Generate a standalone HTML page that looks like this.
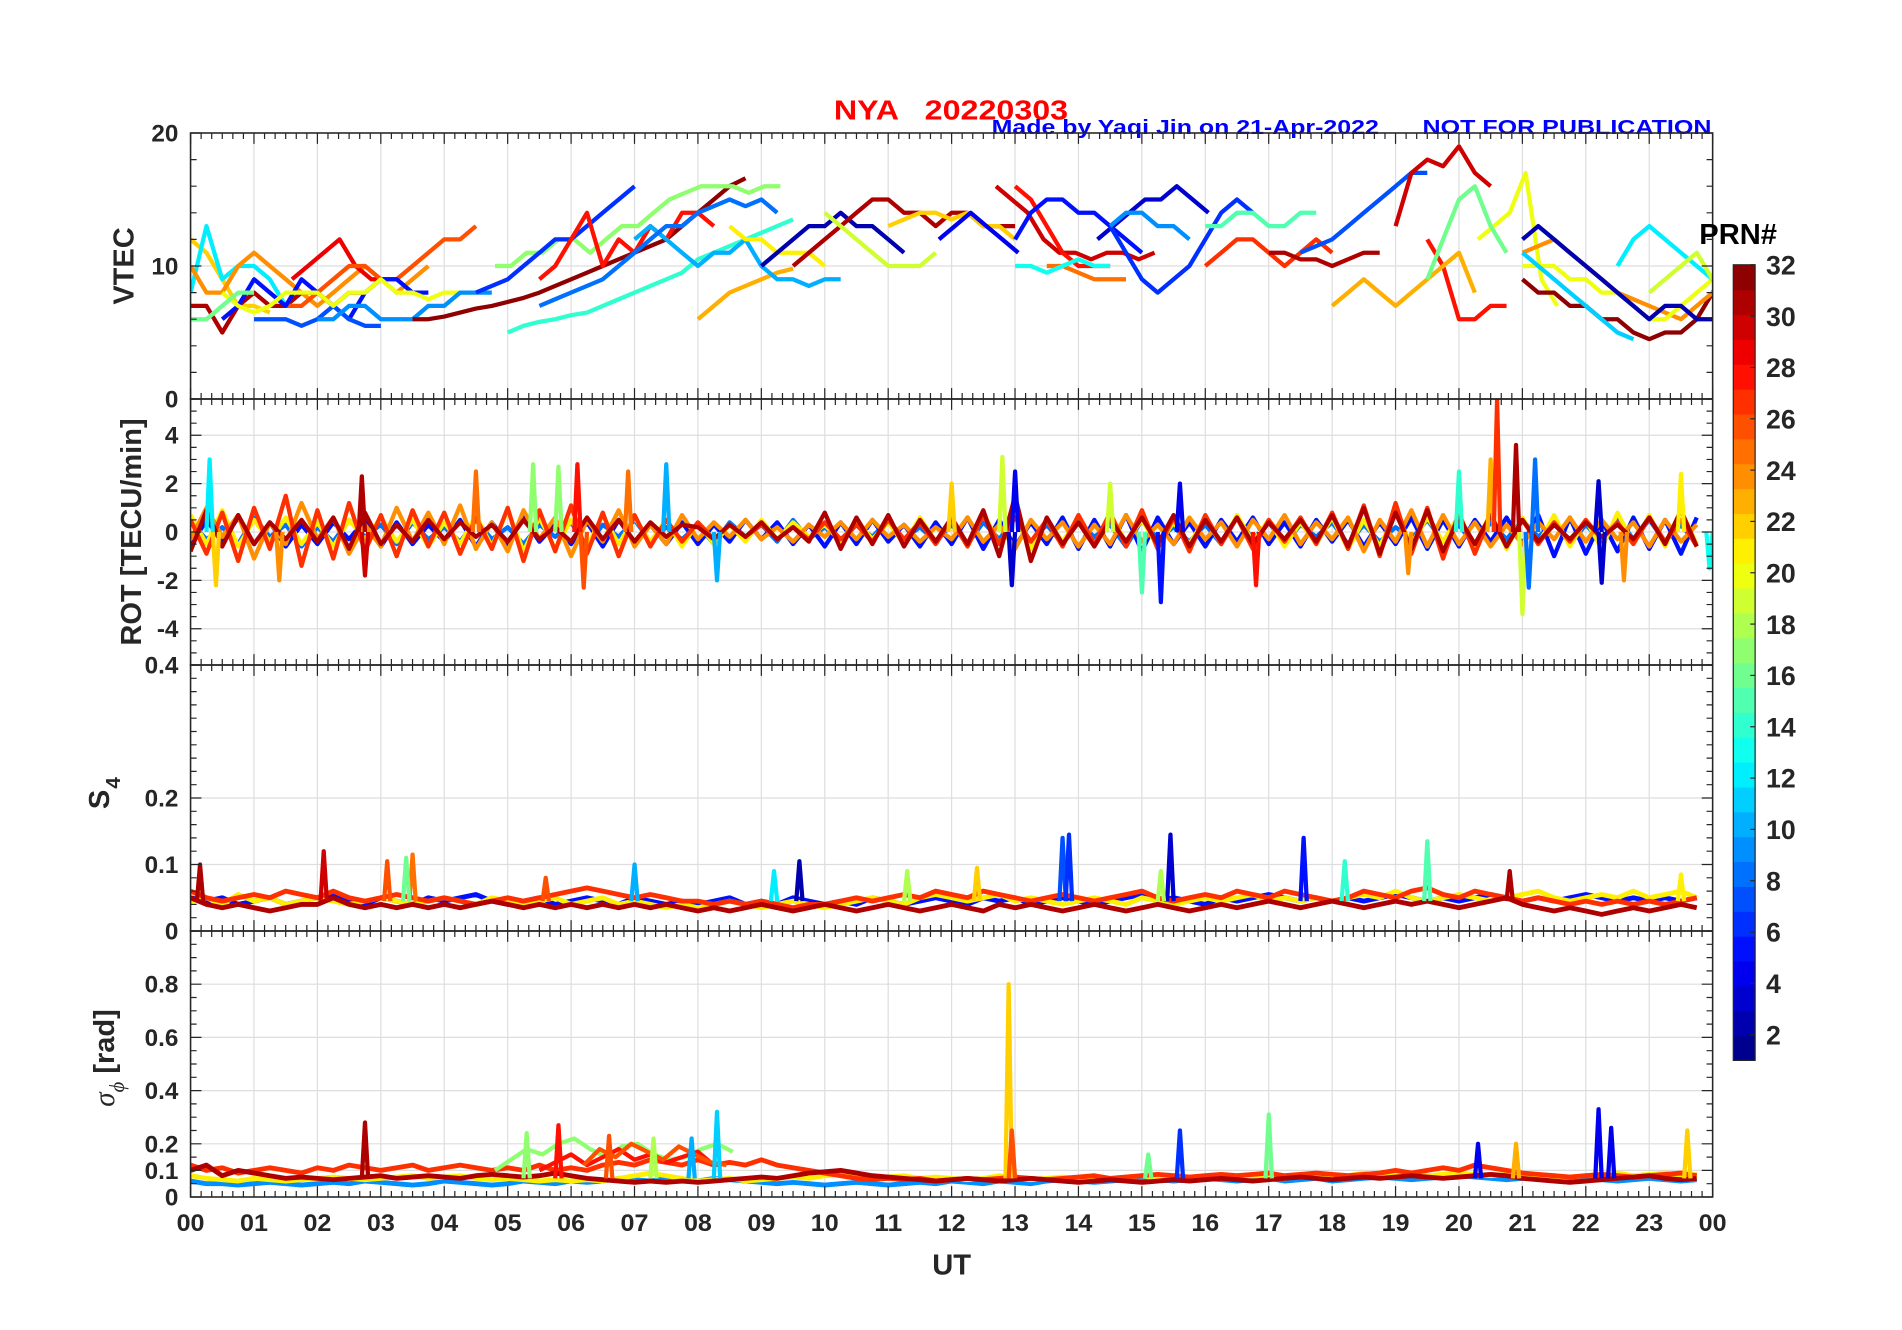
<!DOCTYPE html>
<html><head><meta charset="utf-8">
<style>
html,body{margin:0;padding:0;background:#fff;}
svg{display:block;}
text{font-family:"Liberation Sans",Arial,sans-serif;font-weight:bold;}
</style></head>
<body>
<svg id="chart" width="1902" height="1330" viewBox="0 0 1567 1100" preserveAspectRatio="none" xmlns="http://www.w3.org/2000/svg">
<rect width="1567" height="1100" fill="#fff"/>
<text x="687" y="99" fill="#ff0000" font-size="23" xml:space="preserve" textLength="193" lengthAdjust="spacingAndGlyphs">NYA   20220303</text>
<text x="817" y="111" fill="#0000ff" font-size="17" textLength="319" lengthAdjust="spacingAndGlyphs">Made by Yaqi Jin on 21-Apr-2022</text>
<text x="1172" y="111" fill="#0000ff" font-size="17" textLength="238" lengthAdjust="spacingAndGlyphs">NOT FOR PUBLICATION</text>
<g id="grid"></g>
<g id="marks"></g>
<g id="axes"></g>
<text transform="translate(110,220) rotate(-90)" text-anchor="middle" font-size="24" fill="#262626">VTEC</text>
<text transform="translate(116,440) rotate(-90)" text-anchor="middle" font-size="24" fill="#262626">ROT [TECU/min]</text>
<text transform="translate(90,656) rotate(-90)" text-anchor="middle" font-size="24" fill="#262626">S<tspan font-size="17" dy="9" dx="1">4</tspan></text>
<text transform="translate(94,875) rotate(-90)" text-anchor="middle" font-size="24" fill="#262626"><tspan font-style="italic" font-weight="normal" font-family="Liberation Serif,serif">σ</tspan><tspan font-size="17" dy="8" font-style="italic" font-weight="normal" font-family="Liberation Serif,serif">ϕ</tspan><tspan dy="-8"> [rad]</tspan></text>
<text x="784" y="1054" text-anchor="middle" font-size="24" fill="#262626">UT</text>
<g id="colorbar"></g>
<text x="1400" y="202" font-size="24" fill="#000">PRN#</text>
</svg>
<script>
// ---------- data ----------
const hourLabels = ["00","01","02","03","04","05","06","07","08","09","10","11","12","13","14","15","16","17","18","19","20","21","22","23","00"];
const vtecTicks = [0,10,20];
const rotTicks = [-4,-2,0,2,4];
const s4Ticks = [0,0.1,0.2,0.4];
const sigTicks = [0,0.1,0.2,0.4,0.6,0.8];
const prnTicks = [2,4,6,8,10,12,14,16,18,20,22,24,26,28,30,32];

// VTEC tracks: PRN, start hour, values every 0.25 h
const vtecPrn = [22,12,24,31,29,26,5,7,20,16,9,32,14,17,6,28,23,10,21,2,31,19,22,4,30,28,25,5,3,6,9,15,27,31,7,30,28,20,23,16,32,24,20,2,11,12,19,13,8];
const vtecStart = [0,0,0,0,1.6,1.5,0.5,1,0.5,0,2,3.5,5,4.8,4.5,5.5,8,7,8.5,9,9.5,10,11,11.8,12.7,13,13.5,13,14.3,14.5,14.5,16,16,17,17.5,19,19.5,20.3,18,19.5,21,21,21,21,21,22.5,23,13,5.5];
const vtecVals = [
 [12,11,9,7,7,6.5],
 [8,13,9,10,10,9,7],
 [10,8,8,10,11,10,9,8,7,8,9,10,9,8,9,10],
 [7,7,5,7,8,7,7,8,8,7,8,8],
 [9,10,11,12,10,9,9],
 [7,7,8,9,10,10,9,9,10,11,12,12,13],
 [6,7,9,8,7,9,8,7,6,8,9,9,8,8],
 [6,6,6,5.5,6,7,6,5.5,5.5],
 [8,7,6.5,7,8,8,8,7,8,8,9,8,8,7.5,8,8,8],
 [6,6,7,8,8],
 [6,6,7,7,6,6,6,7,7,8,8,8],
 [6,6,6.2,6.5,6.8,7,7.3,7.6,8,8.5,9,9.5,10,10.5,11,11.5,12,13,14,15,16,16.6],
 [5,5.5,5.8,6,6.3,6.5,7,7.5,8,8.5,9,9.5,10.5,11,11.5,12,12.5,13,13.5],
 [10,10,11,11,12,12,11,12,13,13,14,15,15.5,16,16,16,15.5,16,16],
 [8,8.5,9,10,11,12,12,13,14,15,16],
 [9,10,12,14,10,12,11,13,12,14,14,13],
 [6,7,8,8.5,9,9.5,9.8],
 [12,13,12,11,10,11,11,12,10,9,9,8.5,9,9],
 [13,12,12,11,11,11,10],
 [10,11,12,13,13,14,13,13,12,11],
 [10,11,12,13,14,15,15,14,14,13,14,14,13,13,13],
 [14,13,12,11,10,10,10,11],
 [13,13.5,14,14,13.5,14,13,13,12],
 [12,13,14,13,12,11],
 [16,15,14,12,11,11,10.5,11,11,10.5,11],
 [16,15,13,11,10,10,10],
 [10,10,9.5,9,9,9],
 [12,14,15,15,14,14,13,12,11],
 [12,13,14,15,15,16,15,14],
 [13,11,9,8,9,10,12,14,15,14],
 [13,14,14,13,13,12],
 [13,13,14,14,13,13,14,14],
 [10,11,12,12,11,10,11,12,11],
 [11,11,10.5,10.5,10,10.5,11,11],
 [11,11.5,12,13,14,15,16,17,17],
 [13,17,18,17.5,19,17,16],
 [12,10,6,6,7,7],
 [12,13,14,17,9,7],
 [7,8,9,8,7,8,9,10,11,8],
 [9,12,15,16,13,11],
 [9,8,8,7,7,6,6,5,4.5,5,5,6,8,10,9,8,6],
 [11,11.5,12,11,10,9,8,7.5,7,6.5,6,7,8,9,8,8],
 [10,10,10,9,9,8,8,7,6,6,7,8,9,9,9],
 [12,13,12,11,10,9,8,7,6,7,7,6,6],
 [11,10,9,8,7,6,5,4.5],
 [10,12,13,12,11,10,9],
 [8,9,10,11,9],
 [10,10,9.5,10,10.5,10,10],
 [7,7.5,8,8.5,9,10,11,12,13,13,14,14.5,15,14.5,15,14]
];

// ROT band series (every 0.25 h over the day)
const rotPrn = [8,5,21,24,27,31];
const rotVals = [
 [0.4,-0.3,0.2,-0.5,0.6,-0.2,0.3,-0.6,0.2,-0.4,0.5,-0.2,0.3,-0.5,0.4,-0.3,0.2,-0.4,0.5,-0.3,0.2,-0.5,0.3,-0.2,0.4,-0.6,0.3,-0.2,0.5,-0.4,0.2,-0.3,0.3,-0.5,0.4,-0.2,0.3,-0.4,0.5,-0.3,0.2,-0.4,0.3,-0.2,0.5,-0.3,0.2,-0.4,0.3,-0.5,0.4,-0.3,0.6,-0.4,0.3,-0.5,0.4,-0.2,0.3,-0.6,0.5,-0.3,0.2,-0.4,0.3,-0.5,0.6,-0.3,0.4,-0.5,0.3,-0.2,0.4,-0.5,0.3,-0.4,0.2,-0.3,0.5,-0.4,0.3,-0.6,0.4,-0.3,0.5,-0.2,0.4,-0.5,0.3,-0.4,0.6,-0.3,0.5,-0.4,0.3,-0.5],
 [-0.6,0.5,-0.4,0.6,-0.5,0.4,-0.6,0.3,-0.5,0.4,-0.3,0.5,-0.6,0.4,-0.5,0.3,-0.4,0.5,-0.6,0.4,-0.5,0.6,-0.4,0.3,-0.5,0.4,-0.6,0.5,-0.4,0.3,-0.5,0.4,-0.5,0.3,-0.4,0.5,-0.3,0.4,-0.5,0.3,-0.6,0.4,-0.5,0.5,-0.4,0.3,-0.6,0.4,-0.5,0.6,-0.7,0.5,-0.6,0.4,-0.5,0.6,-0.7,0.5,-0.6,0.7,-0.8,0.6,-0.5,0.4,-0.6,0.5,-0.4,0.6,-0.5,0.4,-0.6,0.5,-0.4,0.5,-0.6,0.4,-0.5,0.6,-0.7,0.5,-0.6,0.5,-0.4,0.6,-0.5,0.7,-1.0,0.6,-0.9,0.5,-0.8,0.6,-0.7,0.5,-0.9,0.6],
 [0.7,-0.5,0.9,-0.6,0.5,-0.4,0.6,-0.5,0.4,-0.6,0.5,-0.3,0.6,-0.4,0.5,-0.6,0.4,-0.5,0.7,-0.6,0.9,-0.8,0.6,-0.7,0.5,-0.6,0.7,-0.5,0.6,-0.4,0.5,-0.6,0.4,-0.5,0.3,-0.4,0.5,-0.3,0.4,-0.2,0.3,-0.4,0.5,-0.3,0.4,-0.5,0.6,-0.4,0.5,-0.6,0.8,-0.5,0.6,-0.7,0.5,-0.4,0.6,-0.5,0.7,-0.4,0.5,-0.6,0.4,-0.5,0.6,-0.5,0.7,-0.4,0.5,-0.6,0.4,-0.5,0.6,-0.7,0.5,-0.6,0.8,-0.5,0.6,-0.4,0.7,-0.6,0.8,-0.7,0.6,-0.5,0.7,-0.6,0.5,-0.7,0.8,-0.5,0.7,-0.6,0.9,-0.5],
 [-0.3,1.0,-0.2,0.7,-1.1,0.4,-0.5,1.2,-0.3,0.6,-0.9,0.3,-0.6,1.0,-0.4,0.8,-0.5,1.1,-0.7,0.4,-0.8,0.9,-0.3,0.6,-1.0,0.5,-0.4,0.9,-0.6,0.3,-0.5,0.7,-0.3,0.4,-0.2,0.5,-0.3,0.2,-0.4,0.3,-0.2,0.4,-0.3,0.5,-0.2,0.3,-0.4,0.2,-0.3,0.6,-0.4,0.3,-0.7,0.5,-0.3,0.4,-0.6,0.3,-0.5,0.7,-0.4,0.3,-0.5,0.6,-0.3,0.4,-0.6,0.5,-0.3,0.7,-0.5,0.4,-0.3,0.6,-0.8,0.5,-0.4,0.9,-0.6,0.7,-0.5,0.4,-0.6,0.3,-0.5,0.4,-0.3,0.6,-0.4,0.5,-0.3,0.4,-0.6,0.5,-0.4,0.3],
 [0.5,-0.9,0.8,-1.2,1.0,-0.7,1.5,-1.4,0.9,-1.1,1.2,-0.8,0.7,-1.0,0.9,-0.6,0.8,-0.9,0.6,-0.7,1.0,-1.2,0.9,-0.8,1.1,-0.9,0.8,-1.0,0.7,-0.6,0.5,-0.4,0.4,-0.3,0.3,-0.2,0.3,-0.3,0.2,-0.3,0.4,-0.3,0.3,-0.4,0.5,-0.3,0.4,-0.5,0.5,-0.6,0.7,-0.5,0.6,-0.4,0.5,-0.6,0.7,-0.5,0.8,-0.6,0.9,-0.7,0.6,-0.8,0.7,-0.5,0.6,-0.7,0.5,-0.4,0.6,-0.5,0.8,-0.7,1.1,-1.0,1.2,-0.9,1.0,-1.1,0.8,-0.9,0.7,-0.6,0.5,-0.5,0.4,-0.4,0.5,-0.3,0.4,-0.5,0.6,-0.4,0.5,-0.6],
 [-0.8,0.9,-0.6,0.7,-0.5,0.4,-0.3,0.5,-0.4,0.6,-0.7,0.8,-0.5,0.3,-0.4,0.5,-0.3,0.4,-0.2,0.3,-0.4,0.5,-0.3,0.2,-0.4,0.6,-0.3,0.5,-0.4,0.4,-0.2,0.3,0.2,-0.3,0.3,-0.2,0.4,-0.3,0.2,-0.4,0.8,-0.7,0.6,-0.5,0.7,-0.6,0.5,-0.4,0.6,-0.5,0.9,-1.0,1.5,-1.2,0.6,-0.5,0.4,-0.6,0.5,-0.4,0.6,-0.5,0.7,-0.6,0.5,-0.4,0.6,-0.5,0.4,-0.3,0.5,-0.4,0.7,-0.6,1.0,-0.9,0.8,-0.7,0.9,-0.8,0.6,-0.5,0.7,-0.6,0.5,-0.4,0.3,-0.3,0.4,-0.2,0.3,-0.3,0.6,-0.5,0.9,-0.6]
];
const rotSpikeHour = [0.3,0.4,1.4,2.7,2.75,4.5,5.4,5.8,6.1,6.2,6.9,7.5,8.3,12.0,12.8,13.0,12.95,14.5,15.0,15.3,15.6,16.8,19.2,20.0,20.5,20.6,20.9,21.0,21.1,21.2,22.2,22.25,22.6,23.5,23.95];
const rotSpikeVal = [3,-2.2,-2,2.3,-1.8,2.5,2.8,2.7,2.8,-2.3,2.5,2.8,-2,2,3.1,2.5,-2.2,2.0,-2.5,-2.9,2,-2.2,-1.7,2.5,3,5.5,3.6,-3.4,-2.3,3,2.1,-2.1,-2,2.4,-1.5];
const rotSpikePrn = [12,22,24,31,30,25,17,17,28,26,25,10,10,22,19,4,3,19,15,5,4,28,24,14,23,27,31,19,8,8,3,3,24,21,13];

// S4 base series (every 0.25 h)
const s4Prn = [5,21,27,31];
const s4Vals = [
 [0.05,0.045,0.05,0.04,0.045,0.05,0.04,0.045,0.05,0.055,0.045,0.04,0.05,0.045,0.04,0.05,0.045,0.05,0.055,0.045,0.04,0.045,0.05,0.04,0.045,0.05,0.045,0.04,0.05,0.045,0.04,0.045,0.04,0.045,0.05,0.04,0.045,0.04,0.05,0.045,0.04,0.045,0.04,0.05,0.045,0.04,0.045,0.05,0.045,0.04,0.05,0.045,0.05,0.04,0.045,0.05,0.045,0.04,0.045,0.05,0.055,0.045,0.05,0.045,0.04,0.05,0.045,0.05,0.055,0.05,0.045,0.05,0.045,0.05,0.045,0.05,0.055,0.05,0.045,0.05,0.045,0.05,0.055,0.05,0.045,0.05,0.045,0.05,0.055,0.05,0.045,0.05,0.045,0.05,0.045,0.05],
 [0.045,0.05,0.04,0.055,0.045,0.05,0.04,0.045,0.05,0.045,0.04,0.045,0.05,0.045,0.04,0.045,0.05,0.045,0.04,0.05,0.045,0.04,0.045,0.05,0.04,0.045,0.05,0.04,0.045,0.04,0.035,0.04,0.035,0.04,0.045,0.04,0.035,0.04,0.045,0.04,0.035,0.04,0.045,0.05,0.045,0.04,0.05,0.055,0.05,0.045,0.05,0.055,0.045,0.05,0.045,0.04,0.045,0.05,0.045,0.04,0.05,0.045,0.04,0.045,0.05,0.045,0.05,0.055,0.045,0.05,0.045,0.05,0.045,0.05,0.055,0.05,0.06,0.05,0.045,0.05,0.055,0.05,0.045,0.05,0.055,0.06,0.05,0.045,0.05,0.055,0.05,0.06,0.05,0.055,0.06,0.05],
 [0.06,0.05,0.045,0.05,0.055,0.05,0.06,0.055,0.05,0.06,0.05,0.045,0.05,0.055,0.05,0.045,0.05,0.045,0.04,0.045,0.05,0.045,0.05,0.055,0.06,0.065,0.06,0.055,0.05,0.055,0.05,0.045,0.045,0.04,0.045,0.04,0.045,0.04,0.035,0.04,0.04,0.045,0.05,0.045,0.05,0.055,0.05,0.06,0.055,0.05,0.06,0.055,0.05,0.045,0.05,0.055,0.05,0.045,0.05,0.055,0.06,0.05,0.045,0.05,0.055,0.05,0.06,0.055,0.05,0.06,0.055,0.05,0.045,0.05,0.06,0.055,0.05,0.06,0.065,0.055,0.05,0.06,0.055,0.05,0.045,0.05,0.045,0.04,0.045,0.04,0.045,0.04,0.045,0.04,0.045,0.05],
 [0.05,0.04,0.035,0.04,0.035,0.03,0.035,0.04,0.04,0.05,0.04,0.035,0.04,0.035,0.04,0.035,0.04,0.035,0.04,0.045,0.04,0.035,0.04,0.035,0.04,0.035,0.04,0.035,0.04,0.035,0.04,0.035,0.03,0.035,0.03,0.035,0.04,0.035,0.03,0.035,0.04,0.035,0.03,0.035,0.04,0.035,0.03,0.035,0.04,0.035,0.03,0.04,0.035,0.04,0.035,0.03,0.035,0.04,0.035,0.03,0.035,0.04,0.035,0.03,0.035,0.04,0.035,0.04,0.045,0.04,0.035,0.04,0.045,0.04,0.035,0.04,0.045,0.04,0.045,0.04,0.035,0.04,0.045,0.05,0.04,0.035,0.03,0.035,0.03,0.025,0.03,0.035,0.03,0.035,0.04,0.035]
];
const s4SpikeHour = [0.15,2.1,3.1,3.5,3.4,5.6,7.0,9.2,9.6,11.3,12.4,13.75,13.85,15.45,15.3,17.55,18.2,19.5,20.8,23.5];
const s4SpikeVal = [0.1,0.12,0.105,0.115,0.11,0.08,0.1,0.09,0.105,0.09,0.095,0.14,0.145,0.145,0.09,0.14,0.105,0.135,0.09,0.085];
const s4SpikePrn = [31,30,26,25,16,26,10,12,2,18,22,7,6,3,18,5,14,15,31,21];

// Sigma-phi base series (every 0.25 h)
const sigPrn = [9,21,27,31];
const sigVals = [
 [0.06,0.05,0.05,0.045,0.05,0.055,0.05,0.045,0.05,0.055,0.05,0.06,0.055,0.05,0.045,0.05,0.06,0.055,0.05,0.045,0.05,0.06,0.055,0.05,0.06,0.055,0.06,0.07,0.065,0.06,0.07,0.065,0.06,0.07,0.065,0.06,0.055,0.05,0.055,0.05,0.045,0.05,0.055,0.05,0.045,0.05,0.055,0.05,0.06,0.055,0.05,0.06,0.055,0.05,0.06,0.065,0.06,0.055,0.06,0.065,0.07,0.065,0.06,0.065,0.07,0.065,0.06,0.065,0.07,0.06,0.065,0.07,0.06,0.065,0.07,0.075,0.07,0.065,0.07,0.075,0.08,0.075,0.07,0.065,0.07,0.075,0.07,0.065,0.07,0.065,0.06,0.065,0.07,0.065,0.06,0.065],
 [0.08,0.07,0.065,0.06,0.07,0.065,0.06,0.065,0.07,0.075,0.07,0.065,0.07,0.075,0.08,0.07,0.075,0.08,0.07,0.065,0.07,0.065,0.06,0.065,0.06,0.065,0.06,0.07,0.08,0.09,0.08,0.07,0.06,0.065,0.07,0.06,0.065,0.07,0.075,0.07,0.08,0.085,0.08,0.07,0.075,0.08,0.07,0.075,0.07,0.065,0.07,0.08,0.07,0.065,0.07,0.075,0.07,0.065,0.07,0.075,0.08,0.07,0.065,0.07,0.075,0.07,0.075,0.08,0.075,0.07,0.08,0.075,0.07,0.08,0.09,0.08,0.09,0.085,0.08,0.085,0.09,0.085,0.08,0.085,0.08,0.075,0.07,0.075,0.08,0.085,0.09,0.08,0.085,0.09,0.08,0.085],
 [0.12,0.1,0.11,0.09,0.1,0.11,0.1,0.09,0.11,0.1,0.12,0.11,0.1,0.11,0.12,0.1,0.11,0.12,0.11,0.1,0.11,0.1,0.12,0.1,0.11,0.1,0.12,0.13,0.12,0.14,0.13,0.12,0.14,0.12,0.13,0.12,0.14,0.12,0.11,0.1,0.09,0.08,0.07,0.065,0.07,0.065,0.07,0.06,0.065,0.07,0.065,0.07,0.075,0.07,0.065,0.07,0.075,0.08,0.07,0.075,0.08,0.085,0.08,0.075,0.08,0.085,0.08,0.085,0.09,0.08,0.085,0.09,0.085,0.08,0.085,0.09,0.1,0.09,0.1,0.11,0.1,0.12,0.11,0.1,0.09,0.085,0.08,0.075,0.08,0.085,0.08,0.075,0.08,0.085,0.09,0.08],
 [0.1,0.12,0.08,0.1,0.09,0.08,0.07,0.075,0.07,0.065,0.07,0.075,0.08,0.07,0.075,0.08,0.075,0.07,0.08,0.085,0.08,0.075,0.08,0.09,0.08,0.07,0.065,0.06,0.055,0.06,0.055,0.06,0.055,0.06,0.065,0.07,0.075,0.07,0.08,0.09,0.095,0.1,0.09,0.08,0.075,0.07,0.065,0.06,0.065,0.07,0.065,0.06,0.065,0.07,0.065,0.06,0.055,0.06,0.065,0.06,0.055,0.06,0.065,0.06,0.065,0.07,0.065,0.06,0.065,0.07,0.075,0.07,0.065,0.07,0.075,0.07,0.075,0.08,0.075,0.07,0.075,0.08,0.085,0.08,0.07,0.065,0.06,0.055,0.06,0.065,0.07,0.075,0.08,0.07,0.065,0.07]
];
const sigBurstPrn = [17,28,26];
const sigBurstStart = [4.8,5.5,6.2];
const sigBurstVals = [
 [0.1,0.14,0.18,0.16,0.2,0.22,0.18,0.15,0.19,0.2,0.16,0.14,0.15,0.18,0.2,0.17],
 [0.1,0.13,0.16,0.12,0.15,0.18,0.14,0.16,0.13,0.15,0.17,0.12],
 [0.12,0.18,0.15,0.2,0.17,0.14,0.19,0.16,0.13,0.12]
];
const sigSpikeHour = [2.75,5.3,5.8,6.6,7.3,7.9,8.3,12.9,12.95,15.1,15.6,17.0,20.3,20.9,22.2,22.4,23.6];
const sigSpikeVal = [0.28,0.24,0.27,0.23,0.22,0.22,0.32,0.8,0.25,0.16,0.25,0.31,0.2,0.2,0.33,0.26,0.25];
const sigSpikePrn = [31,17,28,26,18,10,11,22,26,16,6,16,4,23,4,4,22];

// ---------- helpers ----------
const NS = "http://www.w3.org/2000/svg";
const X0 = 157, X1 = 1411;
function xs(h){ return X0 + h*(X1-X0)/24; }
const panels = [
 {name:"vtec", top:110, bot:330, min:0, max:20, ticks:vtecTicks, minor:2, fmt:v=>String(v)},
 {name:"rot", top:330, bot:550, min:-5.5, max:5.5, ticks:rotTicks, minor:0.5, fmt:v=>String(v)},
 {name:"s4", top:550, bot:770, min:0, max:0.4, ticks:s4Ticks, minor:0.02, fmt:v=>String(v)},
 {name:"sigma", top:770, bot:990, min:0, max:1, ticks:sigTicks, minor:0.05, fmt:v=>String(v)}
];
function ys(p,v){ return p.bot - (v-p.min)/(p.max-p.min)*(p.bot-p.top); }
function jet(prn){
 const t=(prn-0.5)/32;
 const c=x=>Math.round(255*Math.max(0,Math.min(1,1.5-Math.abs(4*t-x))));
 return "rgb("+c(3)+","+c(2)+","+c(1)+")";
}
function mk(tag,attrs,parent){
 const e=document.createElementNS(NS,tag);
 for(const k in attrs) e.setAttribute(k,attrs[k]);
 parent.appendChild(e); return e;
}
const grid=document.getElementById("grid"), marks=document.getElementById("marks"), axes=document.getElementById("axes");
const defs=mk("defs",{},document.getElementById("chart"));

panels.forEach(p=>{
 const cp=mk("clipPath",{id:"clip-"+p.name},defs);
 mk("rect",{x:X0,y:p.top,width:X1-X0,height:p.bot-p.top},cp);
 for(let h=1;h<24;h++){
  const l=mk("line",{x1:xs(h),x2:xs(h),y1:p.top,y2:p.bot,stroke:"#dedede","stroke-width":1},grid);
  
  
 }
 p.ticks.forEach(v=>{
  if(v<=p.min||v>=p.max) return;
  const l=mk("line",{x1:X0,x2:X1,y1:ys(p,v),y2:ys(p,v),stroke:"#dedede","stroke-width":1},grid);
  
  
 });
});

function polyline(p,prn,t0,dt,vals,w,name){
 const pts=vals.map((v,i)=>xs(t0+i*dt).toFixed(1)+","+ys(p,v).toFixed(1)).join(" ");
 const e=mk("polyline",{points:pts,fill:"none",stroke:jet(prn),"stroke-width":w,"stroke-linejoin":"round","clip-path":"url(#clip-"+p.name+")"},marks);
 
 
}
function spikes(p,hours,vals,prns,base,name){
 hours.forEach((h,i)=>{
  const pts=[[h-0.05,base],[h,vals[i]],[h+0.05,base]].map(q=>xs(q[0]).toFixed(1)+","+ys(p,q[1]).toFixed(1)).join(" ");
  const e=mk("polyline",{points:pts,fill:"none",stroke:jet(prns[i]),"stroke-width":3.5,"stroke-linejoin":"round","clip-path":"url(#clip-"+p.name+")"},marks);
  
  
 });
}
vtecVals.forEach((vals,i)=>polyline(panels[0],vtecPrn[i],vtecStart[i],0.25,vals,3.5,"vtec-track-prn"+vtecPrn[i]));
rotVals.forEach((vals,i)=>polyline(panels[1],rotPrn[i],0,0.25,vals,3.5,"rot-series-prn"+rotPrn[i]));
spikes(panels[1],rotSpikeHour,rotSpikeVal,rotSpikePrn,0,"rot-spike");
s4Vals.forEach((vals,i)=>polyline(panels[2],s4Prn[i],0,0.25,vals,4,"s4-series-prn"+s4Prn[i]));
spikes(panels[2],s4SpikeHour,s4SpikeVal,s4SpikePrn,0.045,"s4-spike");
sigVals.forEach((vals,i)=>polyline(panels[3],sigPrn[i],0,0.25,vals,4,"sigma-series-prn"+sigPrn[i]));
sigBurstVals.forEach((vals,i)=>polyline(panels[3],sigBurstPrn[i],sigBurstStart[i],0.25,vals,3.5,"sigma-burst-prn"+sigBurstPrn[i]));
spikes(panels[3],sigSpikeHour,sigSpikeVal,sigSpikePrn,0.07,"sigma-spike");

panels.forEach(p=>{
 const box=mk("rect",{x:X0,y:p.top,width:X1-X0,height:p.bot-p.top,fill:"none",stroke:"#262626","stroke-width":1.3},axes);
 
 
 let d="";
 for(let k=0;k<=144;k++){
  const x=xs(k/6), len=(k%6===0)?9:5;
  d+="M"+x+","+p.bot+"v"+(-len)+"M"+x+","+p.top+"v"+len;
 }
 for(let v=p.min; v<=p.max+1e-9; v+=p.minor){
  const isMajor=p.ticks.some(t=>Math.abs(t-v)<1e-6);
  const len=isMajor?9:5, y=ys(p,v);
  d+="M"+X0+","+y+"h"+len+"M"+X1+","+y+"h"+(-len);
 }
 const tk=mk("path",{d:d,stroke:"#262626","stroke-width":1,fill:"none"},axes);
 
 
 p.ticks.forEach(v=>{
  const t=mk("text",{x:147,y:ys(p,v)+7,"text-anchor":"end","font-size":20,fill:"#262626"},axes);
  t.textContent=p.fmt(v);
  
  
 });
});
hourLabels.forEach((lab,i)=>{
 const t=mk("text",{x:xs(i),y:1018,"text-anchor":"middle","font-size":20,fill:"#262626",textLength:23,lengthAdjust:"spacingAndGlyphs"},axes);
 t.textContent=lab;
 
 
});

const cb=document.getElementById("colorbar");
const CB_TOP=219, CB_BOT=877, CBX=1428, CBW=18;
const bandH=(CB_BOT-CB_TOP)/32;
for(let k=1;k<=32;k++){
 const r=mk("rect",{x:CBX,y:CB_BOT-k*bandH,width:CBW,height:bandH+0.5,fill:jet(k)},cb);
 
 
}
const cbb=mk("rect",{x:CBX,y:CB_TOP,width:CBW,height:CB_BOT-CB_TOP,fill:"none",stroke:"#262626","stroke-width":1},cb);


function cbY(v){ return CB_BOT-(v-1)/31*(CB_BOT-CB_TOP); }
prnTicks.forEach(v=>{
 const l=mk("line",{x1:CBX+CBW-4,x2:CBX+CBW,y1:cbY(v),y2:cbY(v),stroke:"#262626","stroke-width":1},cb);
 
 
 const t=mk("text",{x:1455,y:cbY(v)+8,"font-size":22,fill:"#262626"},cb);
 t.textContent=String(v);
 
 
});
</script>
</body></html>
